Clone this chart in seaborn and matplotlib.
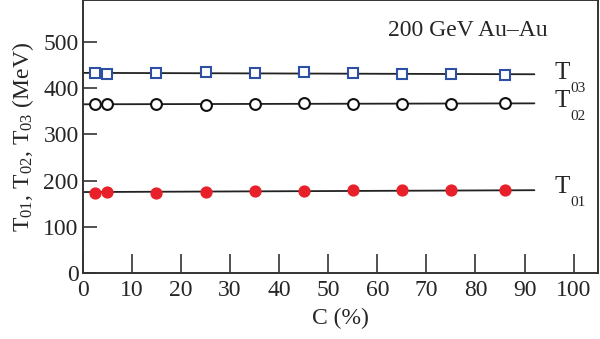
import numpy as np
import pandas as pd
import matplotlib
matplotlib.use("Agg")
import matplotlib.pyplot as plt
import seaborn as sns

# centrality (%) and fitted temperatures (MeV)
cent = [2.5, 5, 15, 25, 35, 45, 55, 65, 75, 86]
t01 = [173, 175, 174, 176, 177, 177, 179, 179, 180, 179]
t02 = [366, 366, 366, 363, 366, 367, 366, 366, 365, 367]
t03 = [433, 431, 433, 435, 432, 435, 433, 430, 430, 429]

# straight fit lines, given by end points
fit_x = [0, 92]
fit01 = [175, 179]
fit02 = [365, 367]
fit03 = [433, 430]


def main():
    sns.set_style("ticks")
    plt.rcParams['font.family'] = ['Liberation Serif', 'DejaVu Serif']
    plt.rcParams['mathtext.fontset'] = 'custom'
    plt.rcParams['mathtext.rm'] = 'Liberation Serif'
    plt.rcParams['mathtext.it'] = 'Liberation Serif:italic'

    fig, ax = plt.subplots(figsize=(6, 3.39), dpi=100)
    fig.subplots_adjust(left=0.138, right=0.997, bottom=0.195, top=0.999)

    for fy in [fit01, fit02, fit03]:
        sns.lineplot(x=fit_x, y=fy, color='#222222', lw=1.3, ax=ax)

    ax.plot(cent, t01, 'o', ms=7.8, color='#e8202a', mec='#e8202a', zorder=3)
    ax.plot(cent, t02, 'o', ms=7.8, mfc='white', mec='#111111', mew=1.5, zorder=3)
    ax.plot(cent, t03, 's', ms=7.5, mfc='white', mec='#2d50a5', mew=1.5, zorder=3)

    ax.set_xlim(0, 105)
    ax.set_ylim(0, 590)
    ax.set_xticks(range(0, 101, 10))
    ax.set_yticks(range(0, 501, 100))
    ax.tick_params(direction='in', labelsize=17, length=10, width=1.2, color='#333333', pad=3)
    ax.tick_params(axis='x', length=14, pad=5)
    for sp in ax.spines.values():
        sp.set_linewidth(1.4)
        sp.set_color('#333333')

    ax.set_xlabel('C (%)', fontsize=17, labelpad=5)
    ax.set_ylabel(r'T$_{01}$, T$_{02}$, T$_{03}$ (MeV)', fontsize=17, labelpad=5)

    ax.text(0.593, 0.89, '200 GeV Au–Au', transform=ax.transAxes, fontsize=17, va='center')
    for lab, yv in [('03', 433), ('02', 372), ('01', 185)]:
        ax.text(96, yv, 'T', fontsize=18, va='center')
        ax.annotate(lab, (96, yv), xytext=(11.5, -11), textcoords='offset points',
                    fontsize=11, va='center')

    plt.savefig("out.png")
    plt.close()


if __name__ == "__main__":
    main()
